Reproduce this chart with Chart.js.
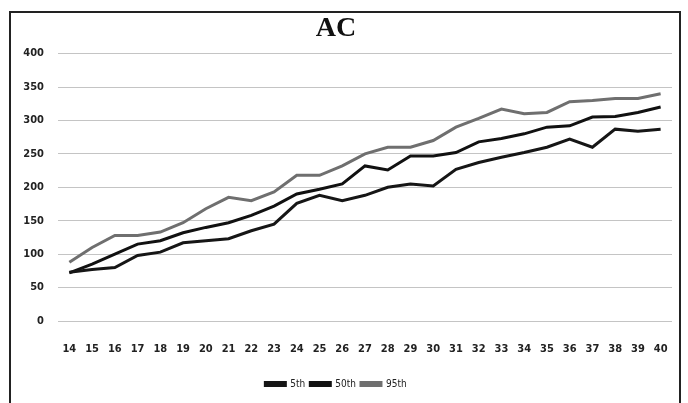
<!DOCTYPE html>
<html>
<head>
<meta charset="utf-8">
<script src="https://cdn.jsdelivr.net/npm/chart.js@4.4.1/dist/chart.umd.min.js"></script>
<style>
  html, body { margin: 0; padding: 0; background: #fff; }
  #wrap { position: relative; width: 688px; height: 403px; overflow: hidden; }
  #frame { position: absolute; left: 9px; top: 11px; width: 672px; height: 400px;
           border: 2px solid #222; box-sizing: border-box; pointer-events: none; }
  canvas { position: absolute; left: 0; top: 0; }
</style>
</head>
<body>
<div id="wrap">
  <canvas id="c" width="688" height="403"></canvas>
  <div id="frame"></div>
</div>
<script>
// gestational weeks
var weeks = ['14','15','16','17','18','19','20','21','22','23','24','25','26','27',
             '28','29','30','31','32','33','34','35','36','37','38','39','40'];

var p5  = [73, 77, 80, 98, 103, 117, 120, 123, 135, 145, 176, 188, 180, 188,
           200, 205, 202, 227, 237, 245, 252, 260, 272, 260, 287, 284, 287];
var p50 = [72, 85, 100, 115, 120, 132, 140, 147, 158, 172, 190, 197, 205, 232,
           226, 247, 247, 252, 268, 273, 280, 290, 292, 305, 306, 312, 320];
var p95 = [88, 110, 128, 128, 133, 147, 168, 185, 180, 193, 218, 218, 232, 250,
           260, 260, 270, 290, 303, 317, 310, 312, 328, 330, 333, 333, 340];

var tickFont = { family: '"Liberation Sans Narrow", "DejaVu Sans Condensed", sans-serif', size: 11, weight: 'bold' };

function line(label, data, color) {
    return {
        label: label,
        data: data,
        borderColor: color,
        backgroundColor: color,
        borderWidth: 3,
        pointRadius: 0,
        tension: 0
    };
}

new Chart(document.getElementById('c'), {
    type: 'line',
    data: {
        labels: weeks,
        datasets: [
            line('5th', p5, '#161616'),
            line('50th', p50, '#111111'),
            line('95th', p95, '#6f6f6f')
        ]
    },
    options: {
        responsive: false,
        animation: false,
        layout: { padding: { top: 12, right: 16, bottom: 4, left: 0 } },
        plugins: {
            title: {
                display: true,
                text: 'AC',
                color: '#111',
                font: { family: '"Liberation Serif", "DejaVu Serif", serif', size: 28, weight: 'bold' },
                padding: { top: 0, bottom: 8 }
            },
            legend: {
                position: 'bottom',
                labels: {
                    color: '#222',
                    font: { family: '"Liberation Sans Narrow", "DejaVu Sans Condensed", sans-serif', size: 10 },
                    boxWidth: 20,
                    boxHeight: 3,
                    padding: 5
                }
            },
            tooltip: { enabled: false }
        },
        scales: {
            x: {
                offset: true,
                grid: { display: false },
                border: { display: false },
                ticks: { color: '#222', font: tickFont, padding: 14, maxRotation: 0, autoSkip: false },
                afterFit: function(scale) { scale.height = 53; }
            },
            y: {
                min: 0,
                max: 400,
                grid: { color: '#c4c4c4', lineWidth: 1, drawTicks: false },
                border: { display: false },
                ticks: { stepSize: 50, color: '#222', font: tickFont, padding: 14 },
                afterFit: function(scale) { scale.width = 58; }
            }
        }
    }
});
</script>
</body>
</html>
